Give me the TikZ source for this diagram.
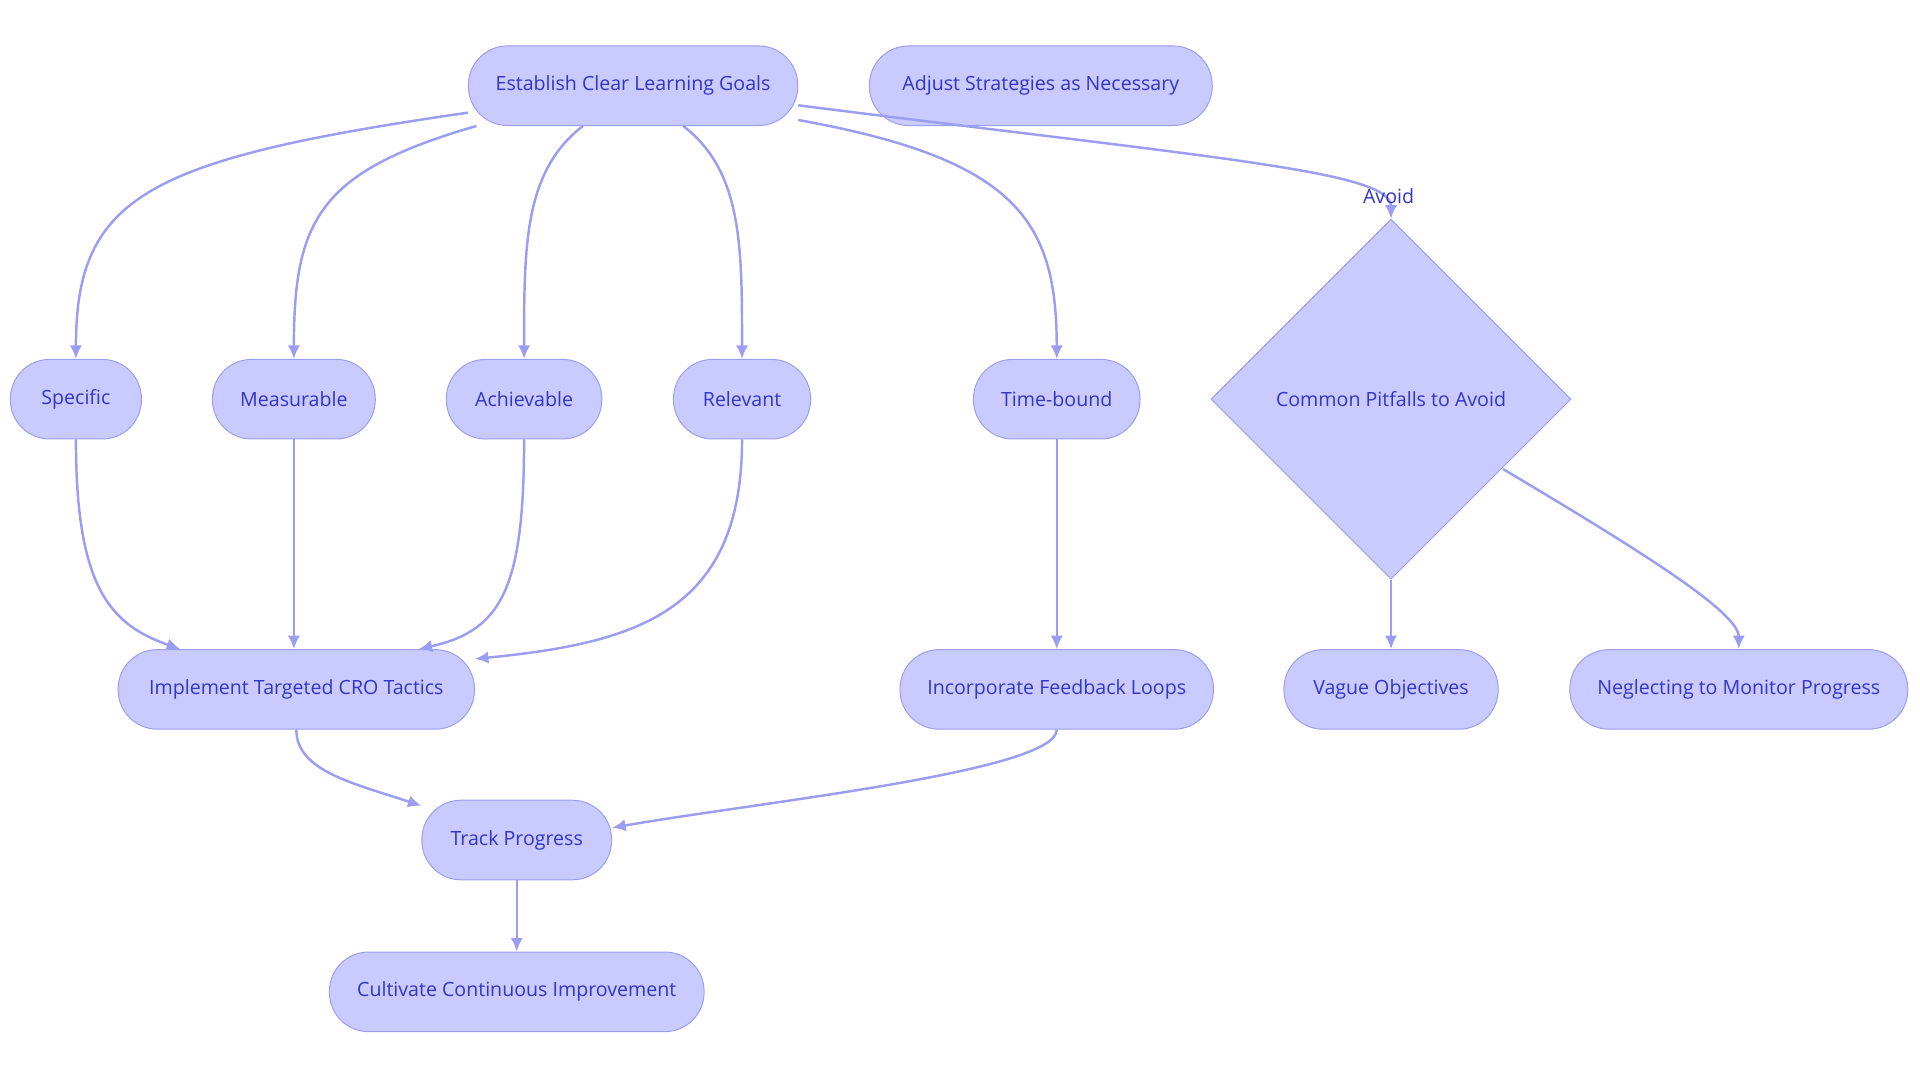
\documentclass[tikz,border=0pt]{standalone}
\usepackage{fontspec}
\setmainfont{Open Sans}
\usetikzlibrary{shapes.geometric,arrows.meta,calc}
\definecolor{nfill}{HTML}{C9CAFF}
\definecolor{nline}{HTML}{9A9DF0}
\definecolor{ntext}{HTML}{3434C8}
\begin{document}
\begin{tikzpicture}[x=1pt,y=-1pt,
  box/.style={draw=nline,fill=nfill,rounded corners=32pt,minimum height=65pt,text=ntext,font=\fontsize{16}{19}\selectfont,inner sep=0pt,line width=0.8pt},
  e/.style={draw=nline,line width=2pt,-{Latex[length=11pt,width=10pt]}}]
\useasboundingbox (0,0) rectangle (1568,884);
\node[box,minimum width=269pt] (goals) at (517,70) {Establish Clear Learning Goals};
\node[box,minimum width=280pt] (adjust) at (850,70) {Adjust Strategies as Necessary};
\node[box,minimum width=107pt] (spec) at (62,326) {Specific};
\node[box,minimum width=133pt] (meas) at (240,326) {Measurable};
\node[box,minimum width=127pt] (ach) at (428,326) {Achievable};
\node[box,minimum width=112pt] (rel) at (606,326) {Relevant};
\node[box,minimum width=136pt] (time) at (863,326) {Time-bound};
\node[draw=nline,fill=nfill,diamond,minimum width=294pt,minimum height=294pt,inner sep=0pt,text=ntext,font=\fontsize{16}{19}\selectfont,line width=0.8pt] (pit) at (1136,326) {Common Pitfalls to Avoid};
\node[box,minimum width=291pt] (impl) at (242,563) {Implement Targeted CRO Tactics};
\node[box,minimum width=256pt] (feed) at (863,563) {Incorporate Feedback Loops};
\node[box,minimum width=175pt] (vague) at (1136,563) {Vague Objectives};
\node[box,minimum width=276pt] (negl) at (1420,563) {Neglecting to Monitor Progress};
\node[box,minimum width=155pt] (track) at (422,686) {Track Progress};
\node[box,minimum width=306pt] (cult) at (422,810) {Cultivate Continuous Improvement};
\coordinate (g1) at ($(goals.west)+(0,22)$);
\draw[e] (g1) .. controls (120,130) and (62,160) .. (spec.north);
\draw[e] ($(goals.south west)+(7,0)$) .. controls (260,140) and (240,180) .. (meas.north);
\draw[e] ($(goals.south)+(-41,0)$) .. controls (428,140) and (428,200) .. (ach.north);
\draw[e] ($(goals.south)+(41,0)$) .. controls (606,140) and (606,200) .. (rel.north);
\draw[e] ($(goals.east)+(0,28)$) .. controls (830,130) and (863,180) .. (time.north);
\draw[e] ($(goals.east)+(0,16)$) .. controls (1000,130) and (1136,140) .. node[pos=0.93,above,text=ntext,font=\fontsize{16}{19}\selectfont]{Avoid} (pit.north);
\draw[e] (spec.south) .. controls (62,480) and (90,510) .. ($(impl.north west)+(51,0)$);
\draw[e] (meas.south) -- (impl.north-|meas.south);
\draw[e] (ach.south) .. controls (428,480) and (410,515) .. ($(impl.north east)+(-46,0)$);
\draw[e] (rel.south) .. controls (606,500) and (520,525) .. ($(impl.north east)+(0,8)$);
\draw[e] (time.south) -- (feed.north);
\draw[e] (pit.south) -- (vague.north);
\draw[e] ($(pit.east)+(-56,57)$) .. controls (1340,450) and (1420,500) .. (negl.north);
\draw[e] (impl.south) .. controls (242,630) and (290,640) .. ($(track.north west)+(0,5)$);
\draw[e] (feed.south) .. controls (863,630) and (620,655) .. ($(track.east)+(0,-10)$);
\draw[e] (track.south) -- (cult.north);
\end{tikzpicture}
\end{document}
